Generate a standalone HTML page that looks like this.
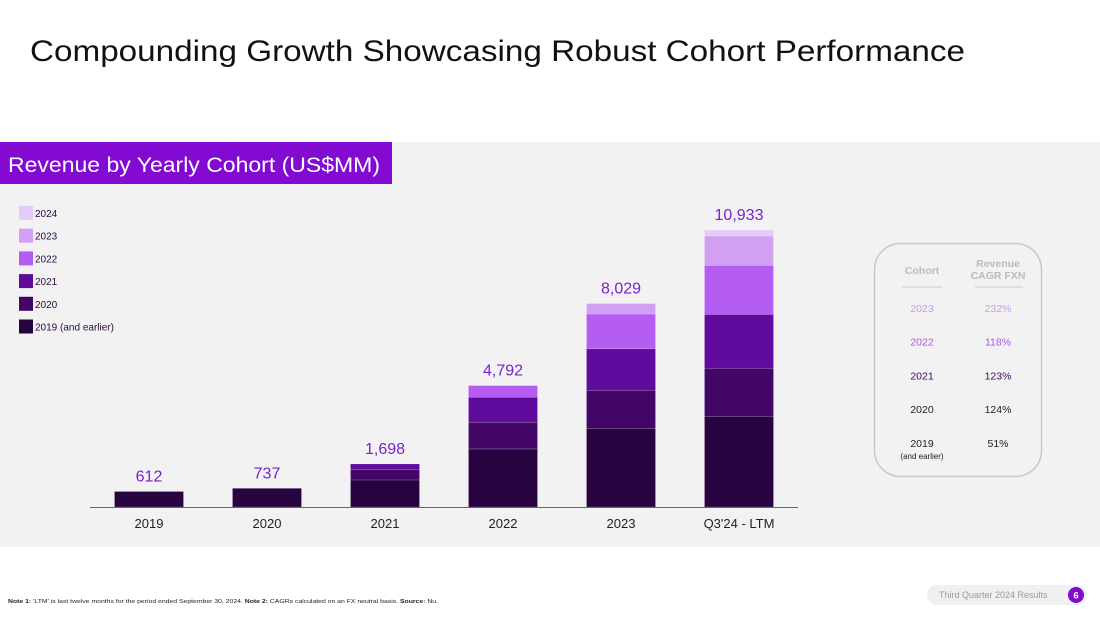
<!DOCTYPE html>
<html><head><meta charset="utf-8"><style>
html,body{margin:0;padding:0;background:#fff;}
svg{display:block;font-family:"Liberation Sans",sans-serif;}
</style></head><body>
<svg id="c" width="1100" height="619" viewBox="0 0 1100 619">
<text x="30" y="61" font-size="30" fill="#111" textLength="935" lengthAdjust="spacingAndGlyphs">Compounding Growth Showcasing Robust Cohort Performance</text>
<rect x="0" y="142" width="1100" height="405" fill="#f2f2f2"/>
<rect x="0" y="142" width="392" height="42" fill="#820ad1"/>
<text x="8" y="172" font-size="21" fill="#fff" textLength="372" lengthAdjust="spacingAndGlyphs">Revenue by Yearly Cohort (US$MM)</text>
<g id="legend"></g>
<g id="bars"></g>
<line x1="90" y1="507.5" x2="798" y2="507.5" stroke="#666" stroke-width="1"/>
<rect x="874.5" y="243.5" width="167" height="233" rx="26" fill="none" stroke="#c8c8c8" stroke-width="1.5"/>
<text x="922" y="274" font-size="10.5" font-weight="bold" fill="#bbb" text-anchor="middle">Cohort</text>
<text x="998" y="267" font-size="10.5" font-weight="bold" fill="#bbb" text-anchor="middle">Revenue</text>
<text x="998" y="279" font-size="10.5" font-weight="bold" fill="#bbb" text-anchor="middle">CAGR FXN</text>
<line x1="902" y1="287" x2="942" y2="287" stroke="#ccc"/>
<line x1="975" y1="287" x2="1023" y2="287" stroke="#ccc"/>
<g id="table"></g>
<text x="8" y="603" font-size="5.5" fill="#222" textLength="430" lengthAdjust="spacingAndGlyphs"><tspan font-weight="bold">Note 1:</tspan> 'LTM' is last twelve months for the period ended September 30, 2024. <tspan font-weight="bold">Note 2:</tspan> CAGRs calculated on an FX neutral basis. <tspan font-weight="bold">Source:</tspan> Nu.</text>
<rect x="927" y="585" width="160" height="20" rx="10" fill="#f0f0f0"/>
<text x="939" y="598" font-size="9" fill="#999">Third Quarter 2024 Results</text>
<circle cx="1076" cy="595" r="8" fill="#820ad1"/>
<text x="1076" y="598.5" font-size="9.5" font-weight="bold" fill="#fff" text-anchor="middle">6</text>
</svg>
<script>
const categories=["2019","2020","2021","2022","2023","Q3'24 - LTM"];
const cohorts=["2019 (and earlier)","2020","2021","2022","2023","2024"];
const c2019=[612,737,1067,2292,3095,3570];
const c2020=[0,0,420,1055,1502,1909];
const c2021=[0,0,211,988,1648,2122];
const c2022=[0,0,0,457,1371,1937];
const c2023=[0,0,0,0,413,1158];
const c2024=[0,0,0,0,0,237];
const totals=["612","737","1,698","4,792","8,029","10,933"];
const tableCohorts=["2023","2022","2021","2020","2019"];
const tableCagr=["232%","118%","123%","124%","51%"];
const series=[c2019,c2020,c2021,c2022,c2023,c2024];
const colors=["#270340","#420766","#600a9e","#b55cf2","#d2a0f2","#e5cbf6"];
const NS="http://www.w3.org/2000/svg";
const base=507,scale=277/10933,x0=149,step=118,bw=69;
const yv=v=>base-v*scale;
const xc=i=>x0+i*step;
function mk(tag,attrs,parent){const e=document.createElementNS(NS,tag);for(const k in attrs)e.setAttribute(k,attrs[k]);parent.appendChild(e);return e;}
const bars=document.getElementById('bars');
categories.forEach((cat,i)=>{
  let cum=0,top=base;
  series.forEach((s,j)=>{
    const v=s[i]; if(!v) return;
    const y1=yv(cum), y2=yv(cum+v);
    const r=mk('rect',{x:xc(i)-bw/2,y:y2,width:bw,height:y1-y2,fill:colors[j],stroke:'rgba(255,255,255,0.25)','stroke-width':0.6},bars);
    
    
    cum+=v; top=y2;
  });
  const t=mk('text',{x:xc(i),y:top-10,'font-size':16,fill:'#7a1fd0','text-anchor':'middle'},bars);
  t.textContent=totals[i];
  
  
  const l=mk('text',{x:xc(i),y:528,'font-size':13,fill:'#222','text-anchor':'middle'},bars);
  l.textContent=cat;
  
  
});
const lg=document.getElementById('legend');
for(let j=5;j>=0;j--){
  const y=206+(5-j)*22.7;
  const r=mk('rect',{x:19,y:y,width:14,height:14,fill:colors[j]},lg);
  
  
  const t=mk('text',{x:35,y:y+11,'font-size':10,fill:'#2a0a3e'},lg);
  t.textContent=cohorts[j];
  
  
}
const tb=document.getElementById('table');
const tcol=["#c99bee","#a855e8","#3a0a5e","#222","#222"];
tableCohorts.forEach((c,i)=>{
  const y=312+i*33.7;
  const a=mk('text',{x:922,y:y,'font-size':10.5,fill:tcol[i],'text-anchor':'middle'},tb);
  a.textContent=c;
  
  
  const b=mk('text',{x:998,y:y,'font-size':10.5,fill:tcol[i],'text-anchor':'middle'},tb);
  b.textContent=tableCagr[i];
  
  
});
const n=mk('text',{x:922,y:459,'font-size':8,fill:'#222','text-anchor':'middle'},tb);
n.textContent='(and earlier)';


</script>
</body></html>
